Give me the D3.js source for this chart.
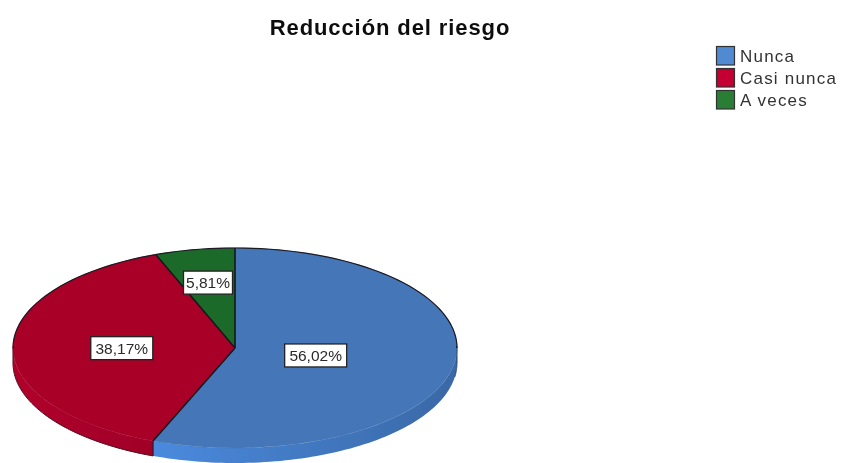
<!DOCTYPE html>
<html><head><meta charset="utf-8">
<script src="https://cdn.jsdelivr.net/npm/d3@7"></script>
<style>html,body{margin:0;background:#fff}svg{display:block}text{font-family:"Liberation Sans",Arial,sans-serif}</style>
</head><body><svg id="c" width="841" height="463"></svg>
<script>
const titleText = "Reducción del riesgo";
const categories = ["Nunca", "Casi nunca", "A veces"];
const values = [56.02, 38.17, 5.81];
const labels = ["56,02%", "38,17%", "5,81%"];
const topColors = ["#4577b8", "#a80028", "#1f6b2c"];
const legendColors = ["#4f8ad2", "#c40030", "#2a7d35"];
const sideStops = [["#4a8ade", "#3a68a6"], ["#b0042c", "#a00028"], ["#1a5a25", "#1a5a25"]];
const labelRadius = [0.37, 0.51, 0.67];

const svg = d3.select("#c");
const cx = 235, cy = 348, rx = 222, ry = 100, depth = 15;
const defs = svg.append("defs");
defs.append("filter").attr("id", "soft").append("feGaussianBlur").attr("stdDeviation", 0.5);
const root = svg.append("g").attr("filter", "url(#soft)");

const slices = d3.pie().sort(null).value(d => d)(values);
const px = a => cx + rx * Math.sin(a);
const py = a => cy - ry * Math.cos(a);
const line = d3.line();
const arcPts = (a0, a1, dy) => d3.range(0, 81).map(k => {
  const a = a0 + (a1 - a0) * k / 80;
  return [px(a), py(a) + dy];
});

// side wall: only the front half of the disc is visible
slices.forEach((s, i) => {
  const a0 = Math.max(s.startAngle, Math.PI / 2), a1 = Math.min(s.endAngle, 3 * Math.PI / 2);
  if (a1 <= a0) return;
  const g = defs.append("linearGradient").attr("id", "side" + i).attr("gradientUnits", "userSpaceOnUse")
    .attr("x1", px(a1)).attr("x2", px(a0)).attr("y1", 0).attr("y2", 0);
  g.append("stop").attr("offset", 0).attr("stop-color", sideStops[i][0]);
  g.append("stop").attr("offset", 1).attr("stop-color", sideStops[i][1]);
  const pts = arcPts(a0, a1, 0).concat(arcPts(a0, a1, depth).reverse());
  root.append("path").attr("d", line(pts) + "Z").attr("fill", `url(#side${i})`);
});

// top face, drawn with d3.arc and flattened to an ellipse
const arc = d3.arc().innerRadius(0).outerRadius(rx);
root.append("g").attr("transform", `translate(${cx},${cy}) scale(1,${ry / rx})`)
  .selectAll("path").data(slices).join("path")
  .attr("d", arc).attr("fill", (d, i) => topColors[i])
  .attr("stroke", (d, i) => topColors[i]).attr("stroke-width", 0.6).attr("vector-effect", "non-scaling-stroke");

// dark outline: radii, upper rim, lower edge of the red wall, right end of the blue wall
const ink = (pts, color, w) => root.append("path").attr("d", line(pts)).attr("fill", "none")
  .attr("stroke", color).attr("stroke-width", w).attr("stroke-linejoin", "round");
const q = Math.PI / 2, split = slices[0].endAngle;
slices.forEach(s => ink([[cx, cy], [px(s.startAngle), py(s.startAngle)]], "#16141c", 1.5));
ink(arcPts(3 * q, 5 * q, 0), "#1c1a24", 1.2);
ink(arcPts(q + 0.14, q, depth).concat(arcPts(q, q - 0.02, 0)), "#2c405e", 1);
ink(arcPts(split, 3 * q, depth).concat(arcPts(3 * q, 3 * q + 0.01, 0)), "#4a0c1c", 1);
ink([[px(split), py(split)], [px(split), py(split) + depth]], "#3c1020", 1.2);

// value labels
slices.forEach((s, i) => {
  const m = (s.startAngle + s.endAngle) / 2;
  const x = cx + rx * labelRadius[i] * Math.sin(m);
  const y = cy - ry * labelRadius[i] * Math.cos(m) + 0.5;
  const w = labels[i].length === 6 ? 62 : 49;
  root.append("rect").attr("x", x - w / 2).attr("y", y - 11.5).attr("width", w).attr("height", 23)
    .attr("fill", "#fff").attr("stroke", "#222").attr("stroke-width", 1.3);
  root.append("text").attr("x", x).attr("y", y + 5.5).attr("text-anchor", "middle")
    .attr("font-size", 15.5).attr("fill", "#2a2a2a").text(labels[i]);
});

root.append("text").attr("x", 390).attr("y", 35).attr("text-anchor", "middle")
  .attr("font-size", 22).attr("font-weight", "bold").attr("letter-spacing", 0.9).attr("fill", "#111").text(titleText);

const lg = d3.scaleBand().domain(categories).range([45, 111]);
categories.forEach((c, i) => {
  root.append("rect").attr("x", 716.5).attr("y", lg(c) + 1.5).attr("width", 18).attr("height", lg.bandwidth() - 3.5)
    .attr("fill", legendColors[i]).attr("stroke", "#333").attr("stroke-width", 1.2);
  root.append("text").attr("x", 740).attr("y", lg(c) + 17).attr("font-size", 17)
    .attr("letter-spacing", 1.2).attr("fill", "#333").text(c);
});
</script></body></html>
